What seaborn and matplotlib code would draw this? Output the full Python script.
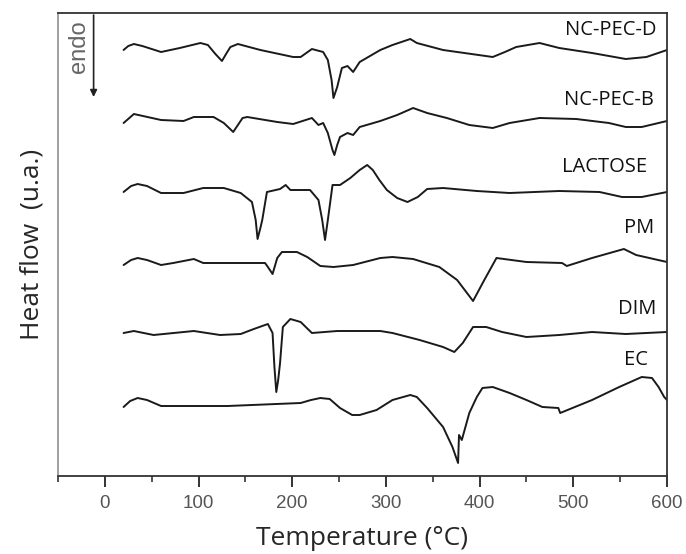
import matplotlib
matplotlib.use("Agg")
import matplotlib.pyplot as plt
import seaborn as sns
import numpy as np
import pandas as pd

# ---- data (temperature in °C, heat flow in arbitrary units, offset per curve) ----
labels = ["NC-PEC-D", "NC-PEC-B", "LACTOSE", "PM", "DIM", "EC"]

t_ncpecd = [20, 25, 31, 40, 60, 80, 102, 110, 118, 125, 130, 134, 142, 166, 201, 209, 221, 233, 238, 242, 244, 248, 253, 259, 265, 272, 294, 307, 326, 333, 361, 414, 427, 439, 464, 485, 520, 556, 578, 600]
hf_ncpecd = [426, 430, 432, 430, 424, 428, 433, 431, 422, 415, 423, 429, 432, 426, 419, 419, 427, 424, 416, 396, 378, 389, 408, 410, 404, 414, 426, 431, 437, 433, 426, 419, 424, 429, 433, 428, 423, 417, 419, 426]

t_ncpecb = [20, 31, 60, 84, 95, 116, 127, 137, 147, 152, 184, 201, 221, 228, 233, 238, 243, 245, 248, 251, 259, 265, 272, 294, 312, 329, 344, 365, 389, 414, 432, 464, 503, 538, 556, 573, 600]
hf_ncpecb = [353, 362, 356, 355, 359, 359, 353, 344, 358, 359, 354, 352, 358, 351, 353, 343, 326, 321, 331, 339, 343, 341, 349, 355, 361, 368, 363, 358, 351, 348, 353, 358, 357, 353, 349, 349, 355]

t_lactose = [20, 28, 35, 45, 60, 84, 105, 127, 145, 157, 161, 163, 166, 168, 173, 187, 193, 198, 219, 228, 232, 235, 238, 243, 251, 262, 272, 280, 286, 293, 301, 312, 323, 334, 344, 361, 397, 432, 485, 528, 552, 573, 600]
hf_lactose = [284, 290, 292, 290, 283, 283, 288, 288, 283, 274, 256, 237, 248, 256, 284, 287, 291, 286, 286, 276, 256, 236, 256, 291, 291, 298, 306, 311, 306, 296, 286, 278, 274, 279, 287, 288, 285, 283, 285, 284, 279, 279, 284]

t_pm = [20, 28, 35, 45, 60, 73, 95, 105, 171, 174, 179, 184, 189, 205, 216, 230, 244, 265, 294, 307, 329, 357, 376, 393, 405, 418, 450, 488, 493, 520, 554, 567, 600]
hf_pm = [211, 216, 218, 216, 211, 213, 217, 213, 213, 209, 202, 218, 224, 224, 219, 210, 209, 211, 218, 219, 217, 209, 196, 175, 196, 218, 214, 213, 210, 218, 227, 221, 214]

t_dim = [20, 31, 52, 95, 123, 145, 159, 174, 179, 181, 183, 185, 187, 190, 198, 209, 221, 248, 294, 307, 336, 361, 373, 382, 393, 407, 424, 450, 485, 520, 556, 600]
hf_dim = [143, 145, 141, 145, 141, 142, 147, 152, 143, 109, 84, 96, 113, 149, 157, 154, 143, 145, 145, 143, 136, 129, 124, 133, 149, 149, 144, 139, 141, 144, 142, 144]

t_ec = [20, 27, 35, 45, 60, 131, 209, 220, 230, 240, 251, 264, 272, 290, 307, 326, 333, 344, 361, 371, 377, 378, 381, 389, 397, 403, 414, 432, 450, 467, 484, 486, 520, 549, 573, 584, 591, 597, 600]
hf_ec = [69, 75, 78, 76, 70, 70, 73, 76, 78, 77, 68, 61, 61, 66, 76, 81, 79, 68, 49, 29, 13, 41, 36, 63, 79, 88, 89, 83, 76, 69, 68, 63, 76, 89, 99, 98, 89, 79, 76]

x_ticks = [0, 100, 200, 300, 400, 500, 600]

# label anchor positions (layout only)
label_pos = [(589, 446), (586, 376), (579, 309), (586, 248), (589, 167), (580, 116)]

series = [(t_ncpecd, hf_ncpecd), (t_ncpecb, hf_ncpecb), (t_lactose, hf_lactose),
          (t_pm, hf_pm), (t_dim, hf_dim), (t_ec, hf_ec)]

frames = []
for name, (t, hf) in zip(labels, series):
    frames.append(pd.DataFrame({"T": t, "HF": hf, "sample": name}))
df = pd.concat(frames, ignore_index=True)

sns.set_style("ticks")
plt.rcParams["font.family"] = ["Open Sans", "DejaVu Sans"]

fig = plt.figure(figsize=(6.86, 5.54), dpi=100)
ax = fig.add_axes([58/686, 1 - 476/554, (667 - 58)/686, (476 - 13)/554])

sns.lineplot(data=df, x="T", y="HF", hue="sample", palette=["#1a1a1a"] * 6,
             linewidth=1.4, legend=False, ax=ax, sort=False, estimator=None)

ax.set_xlim(-50, 600)
ax.set_ylim(0, 463)
ax.set_xticks(x_ticks)
ax.set_xticks(np.arange(-50, 601, 50), minor=True)
ax.set_xticklabels([str(v) for v in x_ticks], fontsize=13.5, color="#555555",
                   family=["Liberation Sans", "DejaVu Sans"])
ax.set_yticks([])
ax.tick_params(axis="x", which="major", direction="out", length=8, width=1.4, color="#333333", pad=6)
ax.tick_params(axis="x", which="minor", direction="out", length=4, width=1.2, color="#333333")

for side in ["top", "right", "bottom"]:
    ax.spines[side].set_color("#333333")
    ax.spines[side].set_linewidth(1.3)
ax.spines["left"].set_color("#999999")
ax.spines["left"].set_linewidth(1.3)

ax.set_xlabel("Temperature (°C)", fontsize=19, labelpad=10)
ax.set_ylabel("Heat flow  (u.a.)", fontsize=19, labelpad=10)

for name, (px, py) in zip(labels, label_pos):
    ax.text(px, py, name, ha="right", va="center", fontsize=14.5, color="#111111")

# endo indicator
ax.annotate("", xy=(-12, 379), xytext=(-12, 461),
            arrowprops=dict(arrowstyle="-|>", color="#222222", lw=1.2,
                            mutation_scale=10, shrinkA=0, shrinkB=0))
ax.text(-28, 429, "endo", rotation=90, ha="center", va="center", fontsize=17,
        color="#666666", family=["Liberation Sans", "DejaVu Sans"])

fig.savefig("out.png", dpi=100)
